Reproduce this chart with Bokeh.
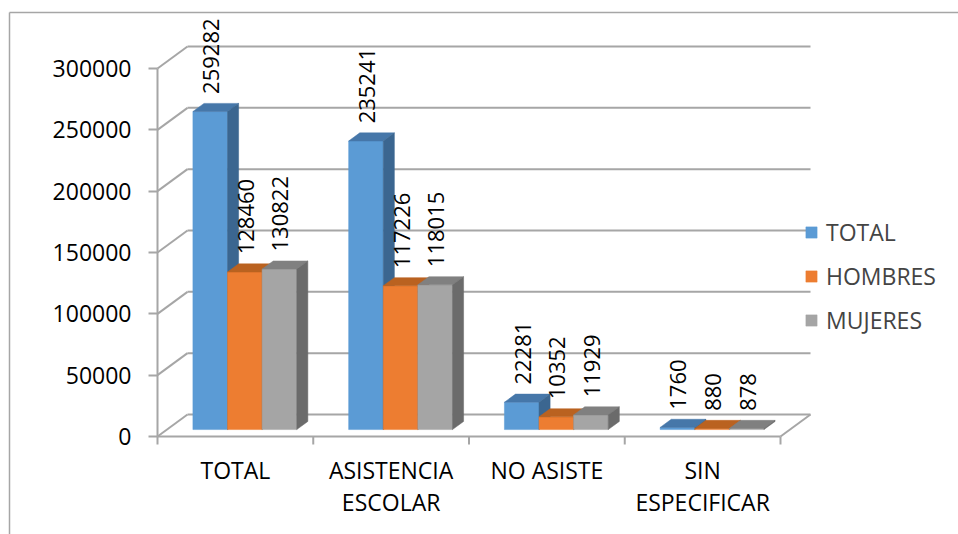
import numpy as np
from bokeh.plotting import figure
from bokeh.models import (Range1d, LinearAxis, FixedTicker, BasicTickFormatter,
                          Legend, LegendItem)
from bokeh.core.properties import value
from bokeh.embed import file_html
from bokeh.resources import INLINE

# ---------------- data ----------------
categories = ["TOTAL", "ASISTENCIA\nESCOLAR", "NO ASISTE", "SIN\nESPECIFICAR"]
series_names = ["TOTAL", "HOMBRES", "MUJERES"]
total = [259282, 235241, 22281, 1760]
hombres = [128460, 117226, 10352, 880]
mujeres = [130822, 118015, 11929, 878]
y_ticks = [0, 50000, 100000, 150000, 200000, 250000, 300000]

# ---------------- styles ----------------
front_colors = ["#5B9BD5", "#ED7D31", "#A5A5A5"]
top_colors = ["#4677A9", "#BA6220", "#808080"]
side_colors = ["#3B6690", "#A5561C", "#6B6B6B"]
FONT = "Open Sans"
FS = "23px"
FS_LABEL = "22px"
GRID = "#A6A6A6"

# ---------------- layout (pixels) ----------------
W, H = 958, 534
X0_PX, Y0_PX = 157, 436          # front-left corner of the floor
PX_PER_CAT = 155.75
PX_PER_VAL = 368 / 300000
DEPTH_DX_PX, DEPTH_DY_PX = 30, 22
BAR_T0, BAR_T1 = 0.315, 0.685
GROUP_PAD = 1 / 6
BAR_W = 2 / 9

dxw = DEPTH_DX_PX / PX_PER_CAT
dyw = DEPTH_DY_PX / PX_PER_VAL
ncat = len(categories)
x_start, x_end = -X0_PX / PX_PER_CAT, (W - X0_PX) / PX_PER_CAT
y_start, y_end = -(H - Y0_PX) / PX_PER_VAL, Y0_PX / PX_PER_VAL

p = figure(width=W, height=H, x_range=Range1d(x_start, x_end),
           y_range=Range1d(y_start, y_end), min_border=0,
           x_axis_type=None, y_axis_type=None,
           output_backend="svg", toolbar_location=None)
p.outline_line_color = None
p.background_fill_color = "white"
p.border_fill_color = "white"

# outer chart border (left and top)
bx = (9 - X0_PX) / PX_PER_CAT
by = (Y0_PX - 12) / PX_PER_VAL
p.segment(x0=[bx, bx], y0=[by, by], x1=[x_end + 1, bx], y1=[by, y_start - 1e5],
          line_color=GRID, line_width=1.5)

yt = np.array(y_ticks, dtype=float)
# side wall diagonals
p.segment(x0=0, y0=yt, x1=dxw, y1=yt + dyw, line_color=GRID, line_width=2)
# back wall gridlines
p.segment(x0=dxw, y0=yt + dyw, x1=ncat + dxw, y1=yt + dyw, line_color=GRID, line_width=2)
# front vertical axis line
p.segment(x0=[0], y0=[0], x1=[0], y1=[yt.max()], line_color=GRID, line_width=2)
# floor front edge and right edge
p.segment(x0=[0, ncat], y0=[0, 0], x1=[ncat, ncat + dxw], y1=[0, dyw],
          line_color=GRID, line_width=2)
# category boundary ticks
bnd = np.arange(ncat + 1, dtype=float)
p.segment(x0=bnd, y0=0, x1=bnd, y1=-8 / PX_PER_VAL, line_color=GRID, line_width=2)

# ---------------- 3D bars ----------------
front_renderers = []
for j, vals in enumerate([total, hombres, mujeres]):
    v = np.array(vals, dtype=float)
    xl = np.arange(ncat) + GROUP_PAD + j * BAR_W
    fx0 = xl + BAR_T0 * dxw
    fx1 = fx0 + BAR_W
    bx0 = xl + BAR_T1 * dxw
    bx1 = bx0 + BAR_W
    fy0 = BAR_T0 * dyw
    by0 = BAR_T1 * dyw
    fr = p.quad(left=fx0, right=fx1, bottom=fy0, top=v + fy0,
                fill_color=front_colors[j], line_color=front_colors[j], line_width=0.5)
    front_renderers.append(fr)
    top_xs = [[fx0[i], fx1[i], bx1[i], bx0[i]] for i in range(ncat)]
    top_ys = [[v[i] + fy0, v[i] + fy0, v[i] + by0, v[i] + by0] for i in range(ncat)]
    p.patches(xs=top_xs, ys=top_ys, fill_color=top_colors[j],
              line_color=top_colors[j], line_width=0.5)
    side_xs = [[fx1[i], bx1[i], bx1[i], fx1[i]] for i in range(ncat)]
    side_ys = [[fy0, by0, v[i] + by0, v[i] + fy0] for i in range(ncat)]
    p.patches(xs=side_xs, ys=side_ys, fill_color=side_colors[j],
              line_color=side_colors[j], line_width=0.5)
    p.text(x=(fx0 + fx1) / 2, y=v + by0, text=[str(int(a)) for a in vals],
           angle=np.pi / 2, text_align="left", text_baseline="middle",
           x_offset=1, y_offset=-9.5, text_font=value(FONT), text_font_size=FS_LABEL,
           text_color="black")

# ---------------- axes ----------------
yaxis = LinearAxis(ticker=FixedTicker(ticks=y_ticks),
                   formatter=BasicTickFormatter(use_scientific=False),
                   fixed_location=0, axis_line_color=None,
                   major_tick_out=9, major_tick_in=0,
                   major_tick_line_color=GRID, major_tick_line_width=2,
                   minor_tick_line_color=None, major_label_standoff=17,
                   major_label_text_font=FONT, major_label_text_font_size=FS,
                   major_label_text_color="black")
p.add_layout(yaxis, "left")

centers = [i + 0.5 for i in range(ncat)]
xaxis = LinearAxis(ticker=FixedTicker(ticks=centers),
                   major_label_overrides={c: lab for c, lab in zip(centers, categories)},
                   fixed_location=0, axis_line_color=None,
                   major_tick_line_color=None, major_tick_out=0, major_tick_in=0,
                   minor_tick_line_color=None, major_label_standoff=17,
                   major_label_text_font=FONT, major_label_text_font_size=FS,
                   major_label_text_color="black",
                   major_label_text_line_height=1.03)
p.add_layout(xaxis, "below")

# ---------------- legend ----------------
legend = Legend(items=[LegendItem(label=series_names[j], renderers=[front_renderers[j]])
                       for j in range(3)],
                location=(804, 198), orientation="vertical",
                glyph_width=14, glyph_height=14, label_standoff=8,
                label_text_font=FONT, label_text_font_size=FS, label_height=30,
                spacing=12, padding=0, margin=0,
                border_line_color=None, background_fill_alpha=0)
p.add_layout(legend)

open("out.html", "w").write(file_html(p, INLINE))
